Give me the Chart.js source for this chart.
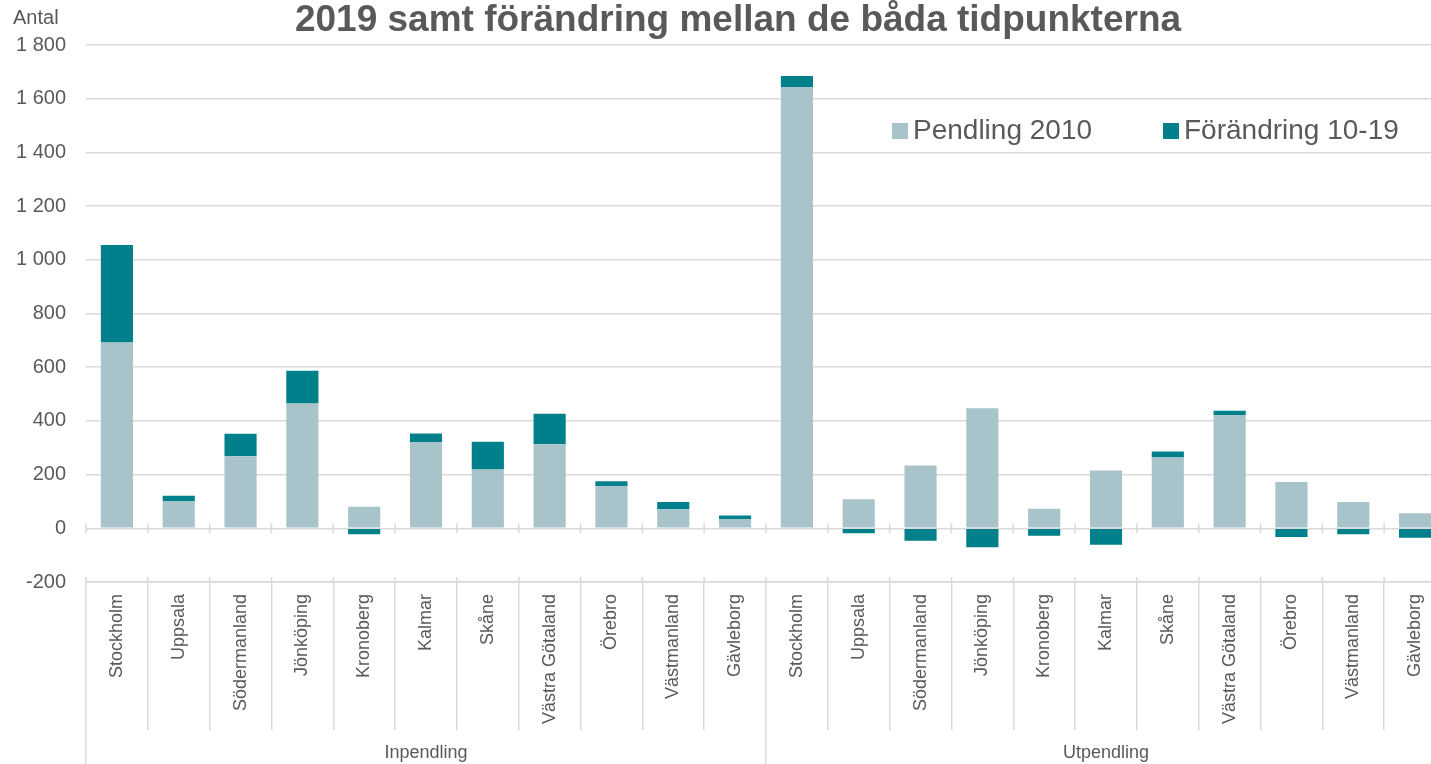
<!DOCTYPE html>
<html>
<head>
<meta charset="utf-8">
<script src="https://cdn.jsdelivr.net/npm/chart.js@4/dist/chart.umd.min.js"></script>
<style>
  html,body{margin:0;padding:0;background:#fff;}
  #wrap{width:1431px;height:764px;overflow:hidden;position:relative;}
</style>
</head>
<body>
<div id="wrap"><canvas id="chart" width="1446" height="764"></canvas></div>
<script>
// ================= DATA =================
const regions = ["Stockholm","Uppsala","Södermanland","Jönköping","Kronoberg","Kalmar","Skåne","Västra Götaland","Örebro","Västmanland","Gävleborg"];
const groups = ["Inpendling","Utpendling"];

const in2010   = [692, 102, 268, 465,  80, 321, 219, 313, 158,  71,  35];
const inChange = [363,  19,  84, 122, -22,  32, 103, 114,  17,  27,  13];
const ut2010   = [1644, 108, 234, 447,  73, 215, 264, 422, 172,  98,  56];
const utChange = [ 41, -18, -46, -71, -28, -61,  22,  16, -32, -22, -35];

const seriesNames = ["Pendling 2010","Förändring 10-19"];
const yTicks = {min:-200, max:1800, step:200};

// ================= STYLE =================
const txt = "#595959";
const gridCol = "#d9d9d9";
const font = "'Liberation Sans', Arial, sans-serif";
Chart.defaults.font.family = font;
Chart.defaults.color = txt;

const fmt = v => String(v).replace(/\B(?=(\d{3})+(?!\d))/g, " ");

// title, "Antal", legend and the little ticks on the zero line
const decorPlugin = {
  id:"decor",
  afterDraw(chart){
    const ctx = chart.ctx;
    const xs = chart.scales.x, ys = chart.scales.y;
    ctx.save();
    ctx.fillStyle = txt;
    ctx.textBaseline = "middle";

    ctx.font = "bold 37px " + font;
    ctx.textAlign = "center";
    ctx.fillText("2019 samt förändring mellan de båda tidpunkterna", 738, 21);

    ctx.font = "20px " + font;
    ctx.textAlign = "left";
    ctx.fillText("Antal", 13, 18);

    // legend
    ctx.font = "28px " + font;
    const legendX = [892, 1163];
    chart.data.datasets.forEach((ds, i) => {
      ctx.fillStyle = ds.backgroundColor;
      ctx.fillRect(legendX[i], 123, 16, 16);
      ctx.fillStyle = txt;
      ctx.fillText(ds.label, legendX[i] + 21, 131);
    });

    // tick marks crossing the zero line
    const y0 = ys.getPixelForValue(0);
    ctx.strokeStyle = gridCol;
    ctx.lineWidth = 1.5;
    ctx.beginPath();
    for (let i = 0; i <= chart.data.labels.length; i++) {
      const x = xs.getPixelForValue(i - 0.5);
      ctx.moveTo(x, y0 - 5); ctx.lineTo(x, y0 + 5);
      ctx.moveTo(x, ys.bottom - 5); ctx.lineTo(x, ys.bottom);
    }
    ctx.stroke();
    ctx.restore();
  }
};

// ================= CHART =================
new Chart(document.getElementById("chart"),{
  type:"bar",
  data:{
    labels:[...regions, ...regions],
    datasets:[
      {label:seriesNames[0], data:[...in2010, ...ut2010], backgroundColor:"#a8c4ca"},
      {label:seriesNames[1], data:[...inChange, ...utChange], backgroundColor:"#00808b"}
    ]
  },
  options:{
    responsive:false,
    animation:false,
    categoryPercentage:1,
    barPercentage:0.52,
    layout:{padding:{left:0, right:0, top:45, bottom:0}},
    plugins:{
      title:{display:false},
      legend:{display:false},
      tooltip:{enabled:false}
    },
    scales:{
      x:{
        stacked:true,
        offset:true,
        weight:0,
        grid:{drawOnChartArea:false, offset:true, color:gridCol, lineWidth:1.5, tickLength:148},
        border:{color:gridCol, width:1.5},
        ticks:{autoSkip:false, minRotation:90, maxRotation:90, padding:-136, color:txt, font:{size:18}},
        afterFit(s){ s.height = 148; }
      },
      x2:{
        type:"category",
        labels:groups,
        position:"bottom",
        offset:true,
        weight:1,
        grid:{drawOnChartArea:false, offset:true, color:gridCol, lineWidth:1.5, tickLength:34},
        border:{display:false},
        ticks:{padding:-22, color:txt, font:{size:18}},
        afterFit(s){ s.height = 34; }
      },
      y:{
        stacked:true,
        min:yTicks.min, max:yTicks.max,
        ticks:{stepSize:yTicks.step, padding:20, color:txt, font:{size:20}, callback:v=>fmt(v)},
        grid:{color:gridCol, lineWidth:1.5, drawTicks:false},
        border:{display:false},
        afterFit(s){ s.width = 86; }
      }
    }
  },
  plugins:[decorPlugin]
});
</script>
</body>
</html>
